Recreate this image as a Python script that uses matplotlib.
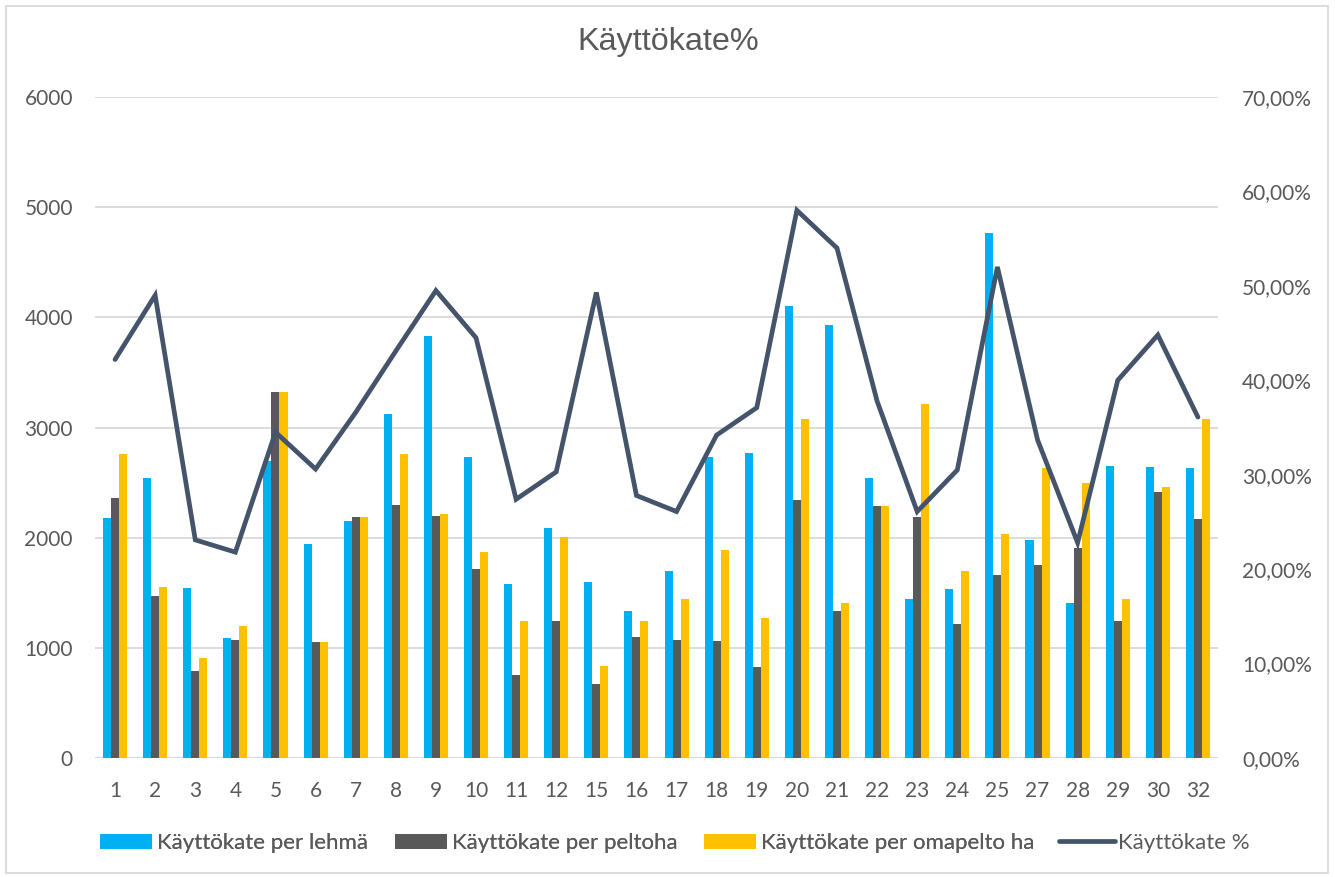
import matplotlib
matplotlib.use("Agg")
import matplotlib.pyplot as plt
from matplotlib.patches import Rectangle
from matplotlib.ticker import FuncFormatter, MultipleLocator
import numpy as np

categories = ["1", "2", "3", "4", "5", "6", "7", "8", "9", "10", "11", "12", "15", "16",
              "17", "18", "19", "20", "21", "22", "23", "24", "25", "27", "28", "29", "30", "32"]
per_lehma = [2175, 2540, 1545, 1090, 2700, 1940, 2155, 3125, 3830, 2730, 1575, 2085, 1600, 1330,
             1700, 2730, 2770, 4100, 3930, 2540, 1445, 1530, 4770, 1975, 1405, 2655, 2645, 2630]
per_peltoha = [2360, 1470, 790, 1075, 3320, 1055, 2185, 2300, 2200, 1715, 755, 1240, 670, 1100,
               1075, 1065, 825, 2340, 1330, 2285, 2190, 1215, 1665, 1755, 1910, 1245, 2415, 2170]
per_omapelto = [2755, 1555, 910, 1200, 3320, 1055, 2185, 2755, 2215, 1870, 1240, 2005, 835, 1240,
                1440, 1890, 1275, 3075, 1410, 2285, 3210, 1695, 2030, 2635, 2500, 1440, 2460, 3075]
kate_pct = [0.422, 0.490, 0.231, 0.218, 0.345, 0.306, 0.366, 0.431, 0.495, 0.445, 0.274, 0.303,
            0.493, 0.278, 0.261, 0.342, 0.371, 0.580, 0.540, 0.378, 0.261, 0.305, 0.520, 0.337,
            0.228, 0.400, 0.448, 0.361]

title = "Käyttökate%"
labels = ["Käyttökate per lehmä", "Käyttökate per peltoha", "Käyttökate per omapelto ha", "Käyttökate %"]

C_BLUE = "#00b0f0"
C_GRAY = "#595959"
C_YEL = "#ffc000"
C_LINE = "#44546a"
C_TXT = "#595959"
C_GRID = "#d9d9d9"
FAM = ["Lato", "DejaVu Sans"]

W, H = 1335, 877
PX = 0.72  # points per pixel at dpi 100
fig = plt.figure(figsize=(W / 100, H / 100), dpi=100)
fig.patch.set_facecolor("white")

# chart border
fig.add_artist(Rectangle((6 / W, 4 / H), 1322 / W, 867 / H, transform=fig.transFigure,
                         fill=False, edgecolor="#d9d9d9", linewidth=1.3))

ax = fig.add_axes([95 / W, 1 - 758 / H, (1218 - 95) / W, (758 - 97) / H])
ax2 = ax.twinx()

x = np.arange(len(categories))
bw = 0.2
b1 = ax.bar(x - bw, per_lehma, bw, color=C_BLUE, label=labels[0], zorder=2)
b2 = ax.bar(x, per_peltoha, bw, color=C_GRAY, label=labels[1], zorder=2)
b3 = ax.bar(x + bw, per_omapelto, bw, color=C_YEL, label=labels[2], zorder=2)
ln, = ax2.plot(x, kate_pct, color=C_LINE, linewidth=3.4, solid_capstyle="round",
               solid_joinstyle="miter", label=labels[3], zorder=3)

ax.set_xlim(-0.5, len(categories) - 0.5)
ax.set_ylim(0, 6000)
ax2.set_ylim(0, 0.70)
ax.yaxis.set_major_locator(MultipleLocator(1000))
ax2.yaxis.set_major_locator(MultipleLocator(0.10))
ax2.yaxis.set_major_formatter(FuncFormatter(lambda v, p: f"{v*100:.2f}%".replace(".", ",")))

ax.grid(axis="y", color=C_GRID, linewidth=1.3, zorder=0)
ax.set_axisbelow(True)
for a in (ax, ax2):
    for s in ("top", "right", "left", "bottom"):
        a.spines[s].set_visible(False)
ax.axhline(0, color=C_GRID, linewidth=1.5, zorder=1)

ax.set_xticks(x)
ax.set_xticklabels(categories, color=C_TXT, family=FAM, fontsize=15)
ax.tick_params(axis="x", length=0, pad=16.5)
ax.tick_params(axis="y", length=0, pad=22 * PX)
ax2.tick_params(axis="y", length=0, pad=24 * PX)
for t in ax.get_yticklabels() + ax2.get_yticklabels():
    t.set_color(C_TXT); t.set_fontfamily(FAM); t.set_fontsize(15)

ax2.patch.set_visible(False)

fig.text(668 / W, 1 - 42 / H, title, ha="center", va="center", color=C_TXT,
         family=["Liberation Sans", "DejaVu Sans"], fontsize=23.3)

leg_y = 1 - 843 / H
leg1 = fig.legend([b1, b2, b3], labels[:3], loc="center left", bbox_to_anchor=(100 / W, leg_y),
                  ncol=3, frameon=False, prop=dict(family=FAM, size=16),
                  handlelength=2.34, handleheight=0.65, handletextpad=0.23, columnspacing=1.2,
                  labelcolor=C_TXT, borderpad=0, borderaxespad=0)
leg2 = fig.legend([ln], labels[3:], loc="center left", bbox_to_anchor=(1059 / W, leg_y),
                  frameon=False, prop=dict(family=FAM, size=16),
                  handlelength=2.5, handletextpad=0.15, labelcolor=C_TXT,
                  borderpad=0, borderaxespad=0)
fig.add_artist(leg1)

fig.savefig("out.png", dpi=100, facecolor="white")
